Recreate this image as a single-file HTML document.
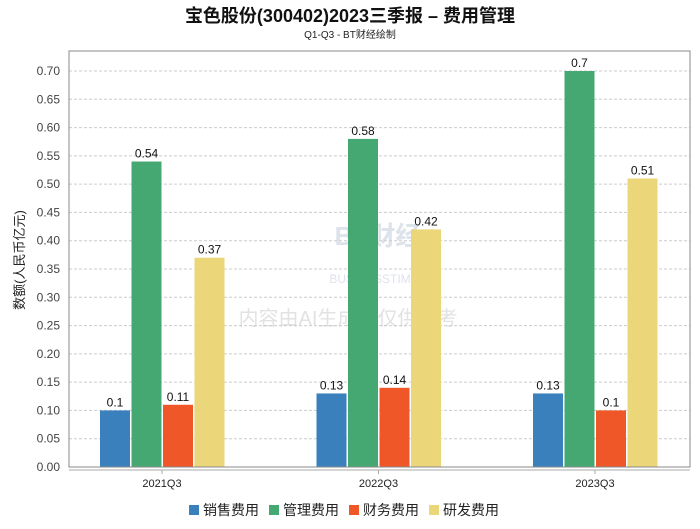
<!DOCTYPE html>
<html><head><meta charset="utf-8"><style>
body{margin:0;background:#fff;}
svg text{font-family:"Liberation Sans","Noto Sans CJK SC",sans-serif;}
</style></head><body>
<svg width="700" height="524" id="c">
<text x="350" y="22" text-anchor="middle" font-size="18" font-weight="bold" fill="#111">宝色股份(300402)2023三季报 – 费用管理</text>
<text x="350" y="38" text-anchor="middle" font-size="10" fill="#222">Q1-Q3 - BT财经绘制</text>
<text x="378" y="245" text-anchor="middle" font-size="26" fill="#dde3ea" font-weight="bold">BT财经</text>
<text x="378" y="283" text-anchor="middle" font-size="12" fill="#dde3ea">BUSINESSTIMES</text>
<text x="348" y="325" text-anchor="middle" font-size="20" fill="#e2e2e2">内容由AI生成，仅供参考</text>
<text transform="translate(24,260) rotate(-90)" text-anchor="middle" font-size="13" fill="#222">数额(人民币亿元)</text>
<g id="grid"></g><g id="bars"></g>
<rect x="69" y="51" width="621" height="416" fill="none" stroke="#888"/>
<line x1="69" y1="470" x2="690" y2="470" stroke="#aaa"/>
<g id="legend"></g>
</svg>
<script>
const categories=["2021Q3","2022Q3","2023Q3"];
const seriesNames=["销售费用","管理费用","财务费用","研发费用"];
const sales=[0.1,0.13,0.13];
const admin=[0.54,0.58,0.7];
const finance=[0.11,0.14,0.1];
const rnd=[0.37,0.42,0.51];
const yTicks=[0,0.05,0.1,0.15,0.2,0.25,0.3,0.35,0.4,0.45,0.5,0.55,0.6,0.65,0.7];
const colors=["#3a80bd","#45a872","#ef5628","#ecd67a"];
const NS="http://www.w3.org/2000/svg";
const y=v=>467-v*565.7;
const xc=i=>162+i*216.5;
function mk(t,a,p){const e=document.createElementNS(NS,t);for(const k in a)e.setAttribute(k,a[k]);p.appendChild(e);return e;}
const g=document.getElementById('grid');
yTicks.forEach(v=>{
 if(v>0){const l=mk('line',{x1:69,x2:690,y1:y(v),y2:y(v),stroke:'#ccc','stroke-dasharray':'3,2'},g);
 
 }
 const t=mk('text',{x:60,y:y(v)+4,'text-anchor':'end','font-size':12,fill:'#444'},g);t.textContent=v.toFixed(2);
 
 
});
const b=document.getElementById('bars');
const all=[sales,admin,finance,rnd];
categories.forEach((c,i)=>{
 const t=mk('text',{x:xc(i),y:487,'text-anchor':'middle','font-size':11,fill:'#222'},b);t.textContent=c;
 
 
 mk('line',{x1:xc(i),x2:xc(i),y1:470,y2:474,stroke:'#aaa'},b);
 all.forEach((s,j)=>{
  const x=xc(i)-62+j*31.5;
  const r=mk('rect',{x:x,y:y(s[i]),width:30,height:467-y(s[i]),fill:colors[j]},b);
  
  
  const l=mk('text',{x:x+15,y:y(s[i])-4,'text-anchor':'middle','font-size':12,fill:'#111'},b);l.textContent=String(s[i]);
  
  
 });
});
const lg=document.getElementById('legend');
seriesNames.forEach((n,j)=>{
 const x=189+j*80;
 const r=mk('rect',{x:x,y:505,width:10,height:10,fill:colors[j]},lg);
 
 
 const t=mk('text',{x:x+14,y:515,'font-size':14,fill:'#222'},lg);t.textContent=n;
 
 
});
</script>
</body></html>
